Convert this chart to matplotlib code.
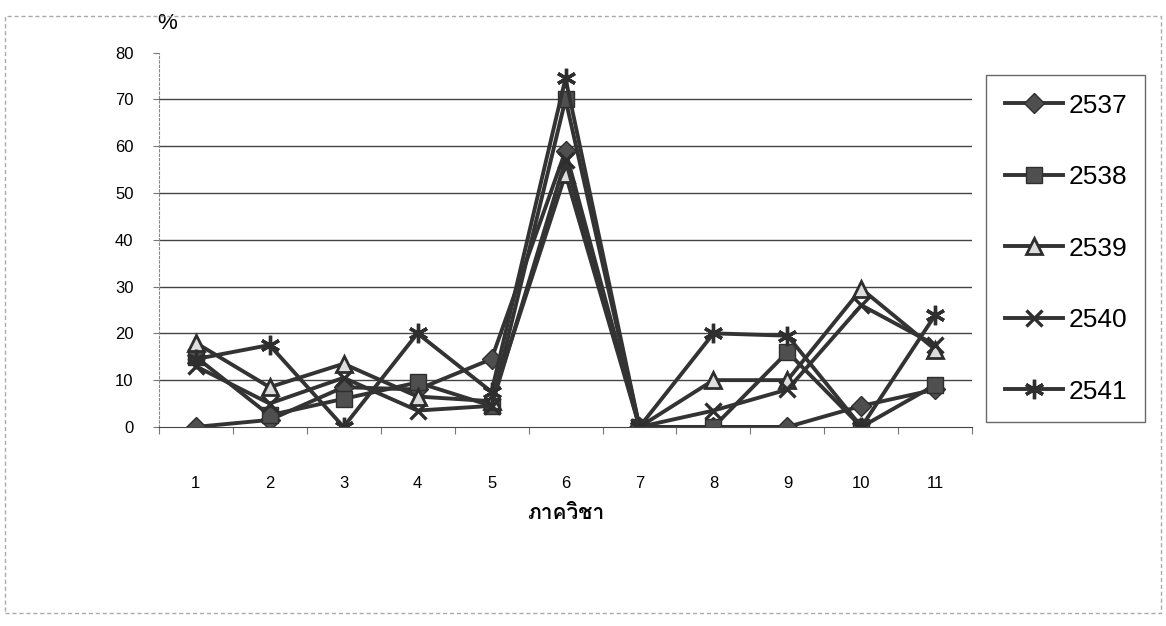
import matplotlib
matplotlib.use('Agg')
from matplotlib import pyplot as plt
from matplotlib.patches import Rectangle
import matplotlib.font_manager as fm
import numpy as np

plt.rcParams['font.family'] = ['Liberation Sans', 'DejaVu Sans']

departments = np.arange(1, 12)
years = ['2537', '2538', '2539', '2540', '2541']

y2537 = [0, 1.5, 8.5, 8, 14.5, 59, 0, 0, 0, 4.5, 8]
y2538 = [15, 2.5, 6, 9.5, 4.5, 70, 0, 0, 16, 0, 9]
y2539 = [18, 8.5, 13.5, 6.5, 5.5, 54, 0, 10, 10, 29.5, 16.5]
y2540 = [13, 5, 10.5, 3.5, 4.5, 57, 0, 3.5, 8, 26, 17.5]
y2541 = [14.5, 17.5, 0, 20, 7.5, 74.5, 0, 20, 19.5, 0, 24]

line_color = '#333333'
styles = [
    {'marker': 'D', 'ms': 10, 'mfc': '#4f4f4f', 'mec': '#2e2e2e'},
    {'marker': 's', 'ms': 11, 'mfc': '#4f4f4f', 'mec': '#2e2e2e'},
    {'marker': '^', 'ms': 12, 'mfc': '#dddddd', 'mec': '#2e2e2e', 'mew': 2},
    {'marker': 'x', 'ms': 12, 'mec': '#2e2e2e', 'mew': 2.4},
    {'marker': (6, 2, 0), 'ms': 14, 'mec': '#2e2e2e', 'mew': 2.4},
]


def thai_font():
    # pick any installed font that has Thai glyphs
    for f in fm.fontManager.ttflist:
        try:
            if ord('ภ') in fm.get_font(f.fname).get_charmap():
                return f.name
        except Exception:
            pass
    return 'DejaVu Sans'


fig = plt.figure(figsize=(11.66, 6.26), dpi=100)
ax = fig.add_axes([0.136, 0.318, 0.698, 0.598])

for vals, year, st in zip([y2537, y2538, y2539, y2540, y2541], years, styles):
    ax.plot(departments, vals, color=line_color, lw=2.8, label=year, **st)

ax.set_xlim(0.5, 11.5)
ax.set_ylim(0, 80)
ax.set_yticks(np.arange(0, 81, 10))
ax.set_xticks(departments)
ax.set_xticks(np.arange(0.5, 11.6, 1), minor=True)
ax.tick_params(axis='x', which='major', length=0, pad=35, labelsize=12)
ax.tick_params(axis='x', which='minor', length=5, width=0.8, color='#777777', direction='out')
ax.tick_params(axis='y', length=4, width=0.8, color='#777777', pad=14, labelsize=12)

for v in range(10, 71, 10):
    ax.axhline(v, color='#444444', lw=1.0, zorder=0)
for s in ['top', 'right']:
    ax.spines[s].set_visible(False)
ax.spines['left'].set_color('#888888')
ax.spines['left'].set_linestyle((0, (2, 2)))
ax.spines['bottom'].set_color('#444444')

ax.text(0.01, 1.079, '%', transform=ax.transAxes, fontsize=16, ha='center', va='center')
ax.set_xlabel('ภาควิชา', fontsize=15, fontweight='bold', family=[thai_font(), 'DejaVu Sans'],
              labelpad=10)

leg = fig.legend(loc='upper left', bbox_to_anchor=(0.846, 0.880), borderaxespad=0,
                 fontsize=19, frameon=True, fancybox=False, edgecolor='#444444',
                 borderpad=0.7, labelspacing=1.8, handlelength=2.2, handletextpad=0.2)
leg.get_frame().set_linewidth(1.0)

# outer chart border from the scan
fig.patches.append(Rectangle((0.004, 0.02), 0.992, 0.955, transform=fig.transFigure,
                             fill=False, edgecolor='#aaaaaa', lw=1.0, ls=(0, (3, 2))))

fig.savefig('out.png', dpi=100)
